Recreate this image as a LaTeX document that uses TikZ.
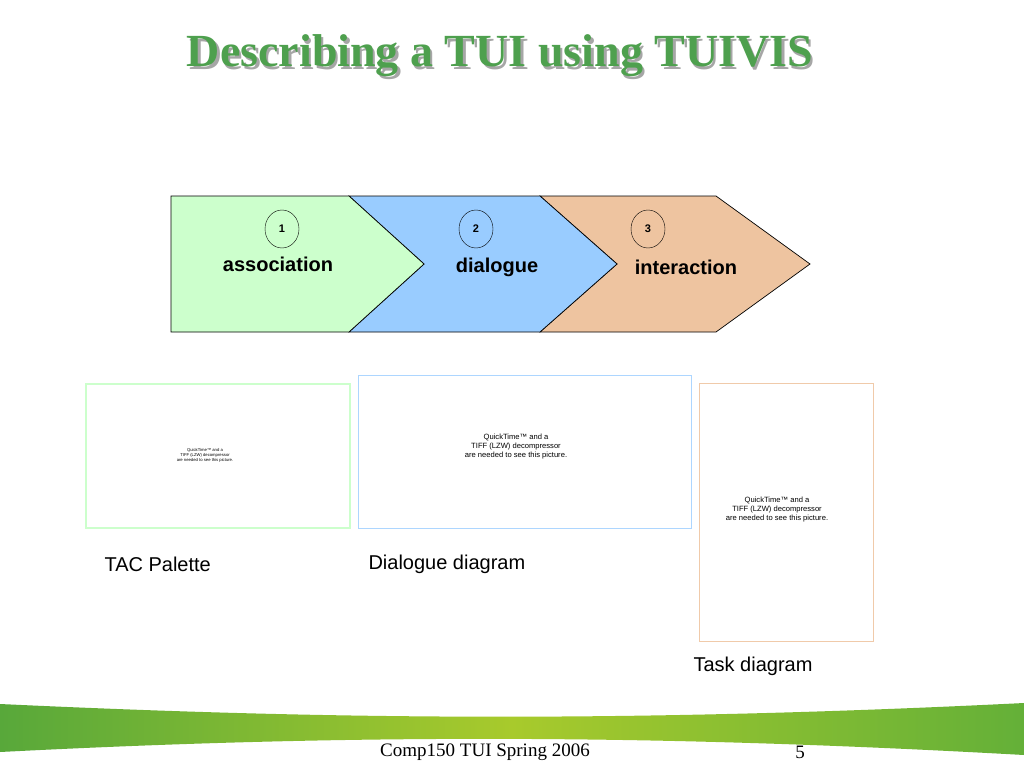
\documentclass[tikz,border=0pt]{standalone}
\usepackage{fontspec}
\setmainfont{Liberation Serif}
\setsansfont{Liberation Sans}
\usepackage{tikz}
\usetikzlibrary{shapes.geometric}

\definecolor{titlegreen}{RGB}{78,160,78}
\definecolor{assocfill}{RGB}{204,255,204}
\definecolor{dialfill}{RGB}{153,204,255}
\definecolor{interfill}{RGB}{238,196,160}
\definecolor{bandleft}{RGB}{88,168,58}
\definecolor{bandmid}{RGB}{168,202,44}
\definecolor{bandright}{RGB}{100,176,56}

\tikzset{
  chevron/.style={draw, line width=0.7pt},
  stepnum/.style={draw, ellipse, minimum width=34pt, minimum height=38pt, inner sep=0pt,
    font=\sffamily\bfseries\fontsize{11}{13}\selectfont},
  steplabel/.style={font=\sffamily\bfseries\fontsize{20}{22}\selectfont},
  qtnote/.style={align=center, font=\sffamily\fontsize{7.6}{9}\selectfont},
  caption/.style={anchor=west, font=\sffamily\fontsize{20}{22}\selectfont}
}

\begin{document}
\begin{tikzpicture}[x=1pt,y=-1pt]
    \useasboundingbox (0,0) rectangle (1024,768);
    \fill[white] (0,0) rectangle (1024,768);
    % title with shadow
    \node[text=gray!70, font=\rmfamily\bfseries\fontsize{46}{50}\selectfont] (titleshadow) at (502.5,58.5) {Describing a TUI using TUIVIS};
    \node[text=titlegreen, font=\rmfamily\bfseries\fontsize{46}{50}\selectfont] (title) at (500,56) {Describing a TUI using TUIVIS};
    % the three chevrons
    \draw[chevron, fill=interfill] (540,196) -- (716,196) -- (810,264) -- (716,332) -- (540,332) -- (617,264) -- cycle;
    \draw[chevron, fill=dialfill] (349,196) -- (540,196) -- (617,264) -- (540,332) -- (349,332) -- (424,264) -- cycle;
    \draw[chevron, fill=assocfill] (171,196) -- (349,196) -- (424,264) -- (349,332) -- (171,332) -- cycle;
    \node[stepnum] (num1) at (282,229) {1};
    \node[stepnum] (num2) at (476,229) {2};
    \node[stepnum] (num3) at (648,229) {3};
    \node[steplabel] (assoc) at (278,264) {association};
    \node[steplabel] (dial) at (497,267) {dialogue};
    \node[steplabel] (inter) at (686,267) {interaction};
    % picture placeholders
    \draw[assocfill, line width=1.2pt] (86,384) rectangle (350,528);
    \draw[dialfill!80!white, line width=0.8pt] (358,375) rectangle (691,528);
    \draw[interfill!90!white, line width=0.8pt] (699,383) rectangle (873,641);
    \node[qtnote, font=\sffamily\fontsize{4.2}{5}\selectfont] (qtassoc) at (205,455) {QuickTime™ and a\\TIFF (LZW) decompressor\\are needed to see this picture.};
    \node[qtnote] (qtdial) at (516,447) {QuickTime™ and a\\TIFF (LZW) decompressor\\are needed to see this picture.};
    \node[qtnote] (qtinter) at (777,510) {QuickTime™ and a\\TIFF (LZW) decompressor\\are needed to see this picture.};
    \node[caption] (tac) at (101,564) {TAC Palette};
    \node[caption] (dialcap) at (365,564) {Dialogue diagram};
    \node[caption] (taskcap) at (690,666) {Task diagram};
    % footer band
    \shade[left color=bandleft, right color=bandright, middle color=bandmid]
      (0,704) .. controls (300,718) and (600,724) .. (1024,703)
      -- (1024,755) .. controls (650,734) and (350,734) .. (0,752) -- cycle;
    \node[font=\rmfamily\fontsize{19}{22}\selectfont] (footer) at (485,752) {Comp150 TUI Spring 2006};
    \node[font=\rmfamily\fontsize{19}{22}\selectfont] (pagenum) at (800,752) {5};
\end{tikzpicture}
\end{document}
